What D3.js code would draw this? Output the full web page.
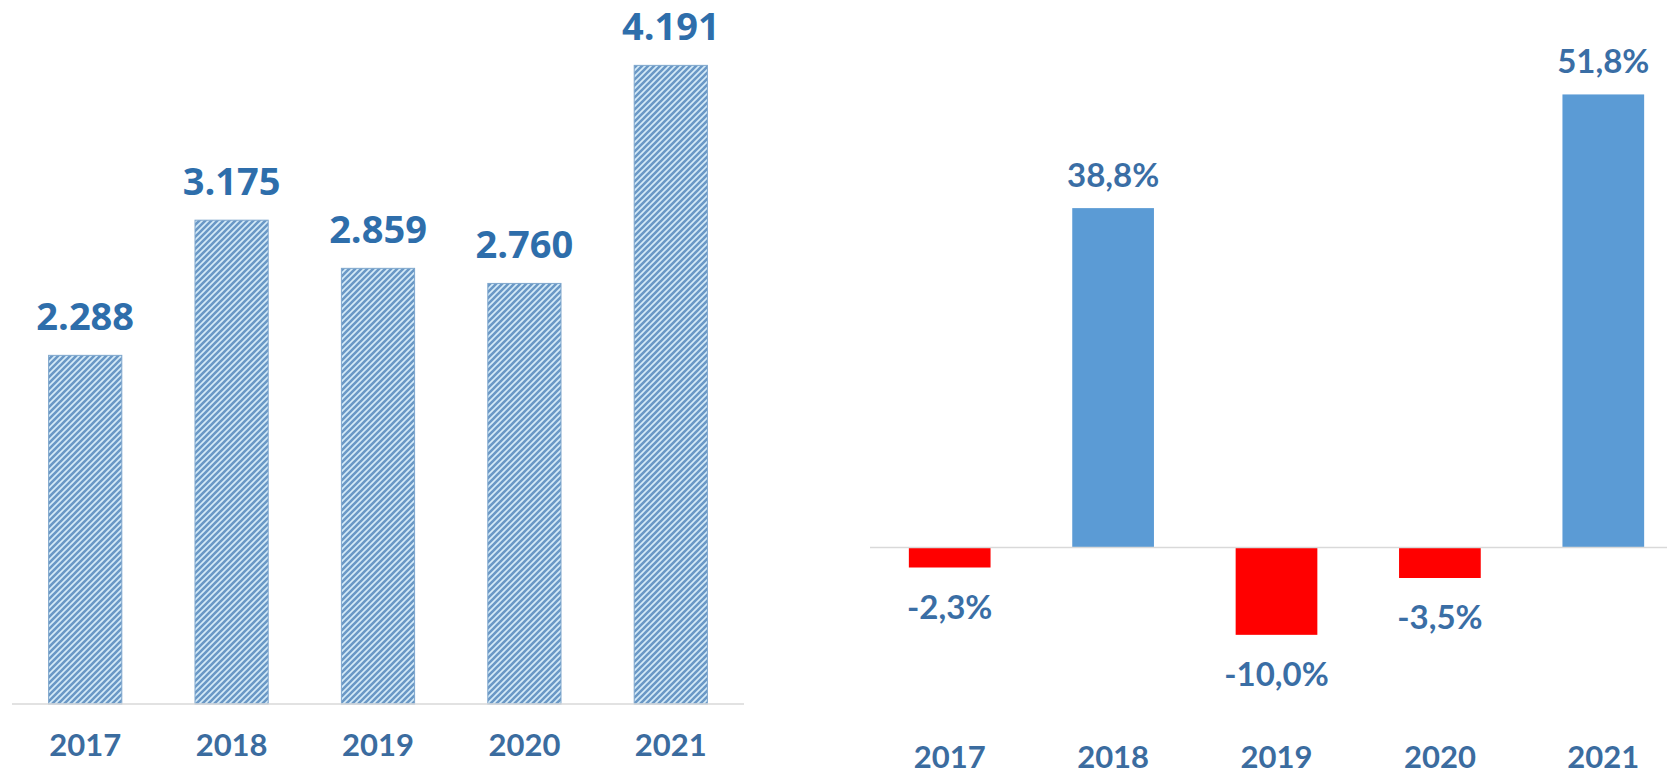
<!DOCTYPE html>
<html>
<head>
<meta charset="utf-8">
<script src="https://cdn.jsdelivr.net/npm/d3@7"></script>
<style>
  body { margin: 0; background: #fff; }
  svg { display: block; }
</style>
</head>
<body>
<div id="chart-area"></div>
<script>
const WIDTH = 1667
const HEIGHT = 775

// data
const years = ["2017", "2018", "2019", "2020", "2021"]
const sales = [2288, 3175, 2859, 2760, 4191]
const growth = [-2.3, 38.8, -10.0, -3.5, 51.8]

// italian-style number formats (dot thousands, comma decimals)
const locale = d3.formatLocale({ decimal: ",", thousands: ".", grouping: [3], currency: ["", "€"], minus: "-" })
const fmtInt = locale.format(",d")
const fmtPct = v => locale.format(".1f")(v) + "%"

const svg = d3.select("#chart-area").append("svg")
  .attr("width", WIDTH)
  .attr("height", HEIGHT)

// hatch pattern for left bars
const defs = svg.append("defs")
const pat = defs.append("pattern")
  .attr("id", "hatch")
  .attr("patternUnits", "userSpaceOnUse")
  .attr("width", 6)
  .attr("height", 6)
pat.append("rect").attr("width", 6).attr("height", 6).attr("fill", "#d5ebf8")
pat.append("path")
  .attr("d", "M-1,1 l2,-2 M0,6 l6,-6 M5,7 l2,-2")
  .attr("stroke", "#6a98c6")
  .attr("stroke-width", 2.6)

/******************** left chart ********************/
const x1 = d3.scaleBand().domain(years).range([12, 744])
  .paddingInner(0.5).paddingOuter(0.25)
const y1 = d3.scaleLinear().domain([0, 4620]).range([704, 0])

const left = svg.append("g")

left.selectAll("rect.bar")
  .data(sales)
  .join("rect")
  .attr("class", "bar")
  .attr("x", (d, i) => x1(years[i]))
  .attr("y", d => y1(d))
  .attr("width", x1.bandwidth())
  .attr("height", d => y1(0) - y1(d))
  .attr("fill", "url(#hatch)")
  .attr("stroke", "#7ea6cc")
  .attr("stroke-width", 1)

left.append("line")
  .attr("x1", x1.range()[0]).attr("x2", x1.range()[1])
  .attr("y1", y1(0)).attr("y2", y1(0))
  .attr("stroke", "#d9d9d9")
  .attr("stroke-width", 1.5)

left.selectAll("text.val")
  .data(sales)
  .join("text")
  .attr("class", "val")
  .attr("x", (d, i) => x1(years[i]) + x1.bandwidth() / 2)
  .attr("y", d => y1(d) - 25)
  .attr("text-anchor", "middle")
  .attr("font-family", "'Open Sans', sans-serif")
  .attr("font-weight", "bold")
  .attr("font-size", "38px")
  .attr("fill", "#2e6eab")
  .text(d => fmtInt(d))

const xAxis1 = left.append("g")
  .attr("transform", "translate(0, 756)")
  .call(d3.axisBottom(x1).tickSize(0).tickPadding(0))
xAxis1.select(".domain").remove()
xAxis1.selectAll("text")
  .attr("y", 0).attr("dy", 0)
  .attr("font-family", "Lato, sans-serif")
  .attr("font-weight", "bold")
  .attr("font-size", "31px")
  .attr("fill", "#3b6c9f")

/******************** right chart ********************/
const x2 = d3.scaleBand().domain(years).range([868, 1685])
  .paddingInner(0.5).paddingOuter(0.25)
const y2 = d3.scaleLinear().domain([-25, 62.6]).range([766, 0])

const right = svg.append("g")

right.selectAll("rect.bar")
  .data(growth)
  .join("rect")
  .attr("class", "bar")
  .attr("x", (d, i) => x2(years[i]))
  .attr("y", d => y2(Math.max(0, d)))
  .attr("width", x2.bandwidth())
  .attr("height", d => Math.abs(y2(d) - y2(0)))
  .attr("fill", d => d < 0 ? "#ff0000" : "#5b9bd5")

right.append("line")
  .attr("x1", 870).attr("x2", WIDTH)
  .attr("y1", y2(0)).attr("y2", y2(0))
  .attr("stroke", "#d9d9d9")
  .attr("stroke-width", 1.5)

right.selectAll("text.val")
  .data(growth)
  .join("text")
  .attr("class", "val")
  .attr("x", (d, i) => x2(years[i]) + x2.bandwidth() / 2)
  .attr("y", d => d < 0 ? y2(d) + 51 : y2(d) - 21)
  .attr("text-anchor", "middle")
  .attr("font-family", "Lato, sans-serif")
  .attr("font-weight", "bold")
  .attr("font-size", "33px")
  .attr("fill", "#3a6ea5")
  .text(d => fmtPct(d))

const xAxis2 = right.append("g")
  .attr("transform", "translate(0, 768)")
  .call(d3.axisBottom(x2).tickSize(0).tickPadding(0))
xAxis2.select(".domain").remove()
xAxis2.selectAll("text")
  .attr("y", 0).attr("dy", 0)
  .attr("font-family", "Lato, sans-serif")
  .attr("font-weight", "bold")
  .attr("font-size", "31px")
  .attr("fill", "#3b6c9f")
</script>
</body>
</html>
